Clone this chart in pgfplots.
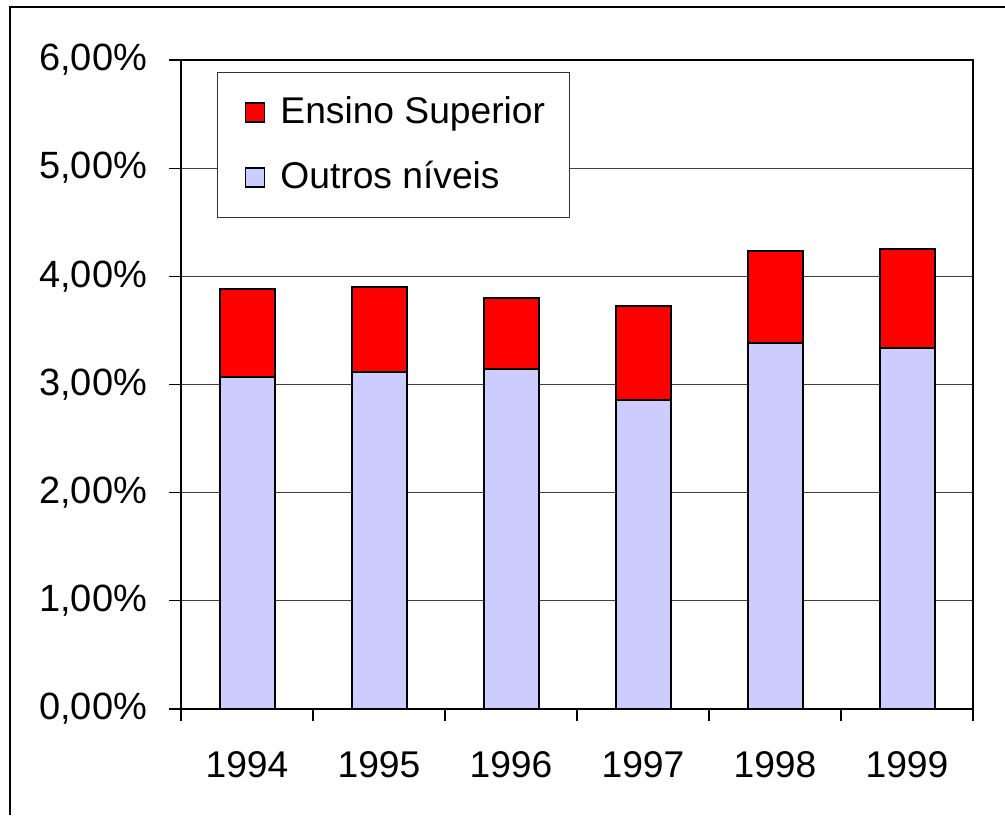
\documentclass[border=0pt]{standalone}
\usepackage{fontspec}
\setmainfont{Liberation Sans}
\usepackage{pgfplots}
\pgfplotsset{compat=1.18}
\definecolor{lav}{RGB}{204,204,255}
\definecolor{red1}{RGB}{255,0,0}
\begin{document}
\begin{tikzpicture}
\path[use as bounding box] (0,0) rectangle (502.5pt,407.5pt);
\draw[black, line width=0.6pt] (5pt,0) -- (5pt,404pt) -- (502.5pt,404pt);
\begin{axis}[
  at={(90.5pt,53pt)}, anchor=south west,
  scale only axis, width=396pt, height=324.5pt,
  xmin=-0.5, xmax=5.5, ymin=0, ymax=6,
  ybar stacked, bar width=27.5pt,
  xtick={0,...,5}, xticklabels={1994,1995,1996,1997,1998,1999},
  major x tick style={draw=none},
  minor xtick={-0.5,0.5,1.5,2.5,3.5,4.5,5.5},
  ytick={0,1,2,3,4,5,6},
  yticklabels={{0,00\%},{1,00\%},{2,00\%},{3,00\%},{4,00\%},{5,00\%},{6,00\%}},
  ymajorgrids, grid style={black!75, line width=0.5pt},
  tick pos=left,
  tick align=outside, major tick length=6pt, minor tick length=6pt,
  tick style={black, line width=0.6pt},
  axis line style={black, line width=0.9pt},
  yticklabel style={font=\fontsize{19}{23}\selectfont, xshift=-7.5pt},
  xticklabel style={font=\fontsize{18.6}{22}\selectfont, yshift=-11.5pt},
  reverse legend,
  legend style={at={(0.0455,0.9815)}, anchor=north west,
    draw=black!80, line width=0.6pt, inner xsep=12pt, inner ysep=3.75pt,
    font=\fontsize{18.6}{22}\selectfont,
    nodes={inner sep=0pt, text height=21.5pt, text depth=11pt},
    /tikz/every odd column/.append style={column sep=7.5pt}},
  legend cell align=left,
  legend image code/.code={\path[draw=none, fill=none] (0pt,0pt) -- (11.5pt,0pt);\draw[#1, draw=black, line width=0.8pt] (2pt,-4.75pt) rectangle (11.5pt,4.75pt);},
]
\addplot[fill=lav, draw=black, line width=1pt] coordinates {(0,3.07) (1,3.12) (2,3.14) (3,2.86) (4,3.38) (5,3.34)};
\addlegendentry{Outros níveis}
\addplot[fill=red1, draw=black, line width=1pt] coordinates {(0,0.81) (1,0.78) (2,0.66) (3,0.87) (4,0.85) (5,0.91)};
\addlegendentry{Ensino Superior}
\end{axis}
\end{tikzpicture}
\end{document}
